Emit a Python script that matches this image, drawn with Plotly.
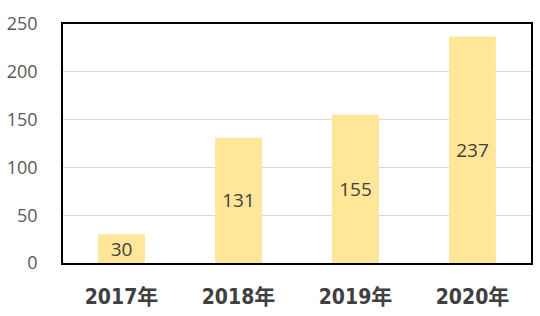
import plotly.graph_objects as go

# Yearly totals
years = ["2017年", "2018年", "2019年", "2020年"]
values = [30, 131, 155, 237]
y_ticks = [0, 50, 100, 150, 200, 250]

fig = go.Figure(
    go.Bar(
        x=years,
        y=values,
        width=0.4,
        marker=dict(color="#FFE699", line=dict(width=0)),
        text=[str(v) for v in values],
        textposition="inside",
        insidetextanchor="middle",
        textangle=0,
        constraintext="none",
        textfont=dict(family="Open Sans", size=19, color="#404040"),
        cliponaxis=False,
    )
)

fig.update_layout(
    width=540,
    height=316,
    margin=dict(l=62, r=7, t=24, b=53),
    paper_bgcolor="white",
    plot_bgcolor="white",
    showlegend=False,
)

fig.update_xaxes(
    showline=True,
    linecolor="black",
    linewidth=1.5,
    mirror=True,
    ticks="",
    ticklabelstandoff=14,
    tickfont=dict(family="DejaVu Sans Condensed, Noto Sans CJK SC", size=21,
                  color="#404040", weight="bold"),
)

fig.update_yaxes(
    range=[0, 250],
    tickvals=y_ticks,
    showgrid=True,
    gridcolor="#d9d9d9",
    gridwidth=1,
    zeroline=False,
    showline=True,
    linecolor="black",
    linewidth=1.5,
    mirror=True,
    ticks="",
    ticklabelstandoff=20,
    tickfont=dict(family="Open Sans", size=18, color="#595959"),
)

fig.write_html("out.html")
